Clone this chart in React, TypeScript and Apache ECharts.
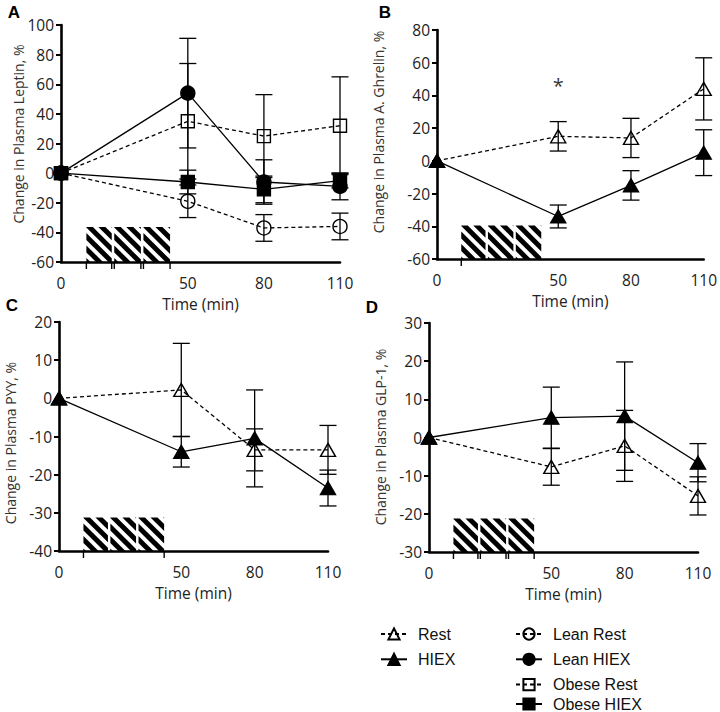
import React, { useEffect, useRef } from "react";
import * as echarts from "echarts";

// ---- data ----
const times = [0, 50, 80, 110];
const xTickLabels = [0, 50, 80, 110];

// Panel A: Leptin
const leanRestA = [0, -19, -37, -36];
const leanRestErrA = [0, 11, 9, 9];
const leanHiexA = [0, 54, -6, -9];
const leanHiexErrA = [0, 37, 15, 9];
const obeseRestA = [0, 35, 25, 32];
const obeseRestErrA = [0, 39, 28, 33];
const obeseHiexA = [0, -6, -11, -5];
const obeseHiexErrA = [0, 8, 9, 5];

// Panel B: A. Ghrelin
const restB = [0, 15, 14, 44];
const restErrB = [0, 9, 12, 19];
const hiexB = [0, -34, -15, 5];
const hiexErrB = [0, 7, 9, 14];
const starB = [50, 46];

// Panel C: PYY
const restC = [0, 2.2, -13.5, -13.5];
const restErrC = [0, 12.2, 5.5, 6.4];
const hiexC = [0, -14, -10.5, -23.5];
const hiexErrC = [0, 4, 12.7, 4.7];

// Panel D: GLP-1
const restD = [0, -7.7, -2.2, -15.3];
const restErrD = [0, 4.8, 9.3, 5];
const hiexD = [0, 5.2, 5.6, -6.6];
const hiexErrD = [0, 8, 14.2, 5];

// axes
const yMin = [-60, -60, -40, -30];
const yMax = [100, 80, 20, 30];
const yStep = [20, 20, 10, 10];
const yTitles = [
  "Change in Plasma Leptin, %",
  "Change in Plasma A. Ghrelin, %",
  "Change in Plasma PYY, %",
  "Change in Plasma GLP-1, %",
];
const panelLetters = ["A", "B", "C", "D"];

// legend groups
const legendLeft = ["Rest", "HIEX"];
const legendRightTop = ["Lean Rest", "Lean HIEX", "Obese Rest"];
const legendRightBottom = ["Obese HIEX"];

// exercise block (time in min) and its top value per panel
const exerciseSections = [
  [10, 20],
  [21, 31.5],
  [32.5, 43],
];
const hatchTop = [-36.3, -39.5, -31.2, -21.2];
const blockTicks = [
  [10, 20, 21, 31.5, 32.5, 43],
  [10],
  [10, 43],
  [10, 20, 21, 31.5, 32.5, 43],
];

const FONT = '"Open Sans", "Noto Sans", sans-serif';

function clipPoly(poly: number[][], f: (p: number[]) => number) {
  const out: number[][] = [];
  for (let i = 0; i < poly.length; i++) {
    const A = poly[i];
    const B = poly[(i + 1) % poly.length];
    const fa = f(A);
    const fb = f(B);
    if (fa >= 0) out.push(A);
    if (fa >= 0 !== fb >= 0) {
      const t = fa / (fa - fb);
      out.push([A[0] + t * (B[0] - A[0]), A[1] + t * (B[1] - A[1])]);
    }
  }
  return out;
}

function makeHatch(panel: number) {
  return (params: any, api: any) => {
    const children: any[] = [];
    const bottom = yMin[panel];
    const top = hatchTop[panel];
    const P = 12.5;
    const W = 7;
    for (const [x0v, x1v] of exerciseSections) {
      const p0 = api.coord([x0v, top]);
      const p1 = api.coord([x1v, bottom]);
      const rect = [
        [p0[0], p0[1]],
        [p1[0], p0[1]],
        [p1[0], p1[1]],
        [p0[0], p1[1]],
      ];
      const base = p0[0] - p0[1] + 3 - W / 2;
      for (let k = -8; k <= 8; k++) {
        const a = base + k * P;
        const b = a + W;
        let poly = clipPoly(rect, (pt) => pt[0] - pt[1] - a);
        if (poly.length < 3) continue;
        poly = clipPoly(poly, (pt) => b - (pt[0] - pt[1]));
        if (poly.length < 3) continue;
        children.push({ type: "polygon", shape: { points: poly }, style: { fill: "#000" } });
      }
    }
    const yb = api.coord([0, bottom])[1];
    for (const t of blockTicks[panel]) {
      const x = api.coord([t, bottom])[0];
      children.push({
        type: "line",
        shape: { x1: x, y1: yb, x2: x, y2: yb + 7 },
        style: { stroke: "#000", lineWidth: 1.4 },
      });
    }
    return { type: "group", children };
  };
}

const errRender = (params: any, api: any) => {
  const x = api.value(0);
  const lo = api.value(1);
  const hi = api.value(2);
  const pl = api.coord([x, lo]);
  const ph = api.coord([x, hi]);
  const hw = 8.5;
  const st = { stroke: "#000", lineWidth: 1.3 };
  return {
    type: "group",
    children: [
      { type: "line", shape: { x1: pl[0], y1: pl[1], x2: ph[0], y2: ph[1] }, style: st },
      { type: "line", shape: { x1: pl[0] - hw, y1: pl[1], x2: pl[0] + hw, y2: pl[1] }, style: st },
      { type: "line", shape: { x1: ph[0] - hw, y1: ph[1], x2: ph[0] + hw, y2: ph[1] }, style: st },
    ],
  };
};

type Kind = "Rest" | "HIEX" | "Lean Rest" | "Lean HIEX" | "Obese Rest" | "Obese HIEX";

const styleFor: Record<Kind, { symbol: string; size: any; filled: boolean; dashed: boolean }> = {
  Rest: { symbol: "triangle", size: [15, 13], filled: false, dashed: true },
  HIEX: { symbol: "triangle", size: [15, 13], filled: true, dashed: false },
  "Lean Rest": { symbol: "circle", size: 14, filled: false, dashed: true },
  "Lean HIEX": { symbol: "circle", size: 14, filled: true, dashed: false },
  "Obese Rest": { symbol: "rect", size: 13, filled: false, dashed: true },
  "Obese HIEX": { symbol: "rect", size: 13, filled: true, dashed: false },
};

function lineSeries(kind: Kind, panel: number, vals: number[]) {
  const s = styleFor[kind];
  return {
    type: "line",
    name: kind,
    xAxisIndex: panel,
    yAxisIndex: panel,
    data: times.map((t, i) => [t, vals[i]]),
    symbol: s.symbol,
    symbolSize: s.size,
    showAllSymbol: true,
    z: 3,
    lineStyle: { color: "#000", width: 1.3, type: s.dashed ? [4, 3] : "solid" },
    itemStyle: {
      color: s.filled ? "#000" : "rgba(255,255,255,0)",
      borderColor: "#000",
      borderWidth: 1.4,
    },
  };
}

function errSeries(panel: number, vals: number[], errs: number[]) {
  const data: number[][] = [];
  times.forEach((t, i) => {
    if (errs[i] > 0) data.push([t, vals[i] - errs[i], vals[i] + errs[i]]);
  });
  return {
    type: "custom",
    name: "err",
    xAxisIndex: panel,
    yAxisIndex: panel,
    renderItem: errRender,
    encode: { x: 0, y: [1, 2] },
    data,
    z: 2,
  };
}

const grids = [
  { left: 61, top: 25, width: 279, height: 237 },
  { left: 437, top: 30, width: 268, height: 229 },
  { left: 59, top: 322, width: 269, height: 229 },
  { left: 429, top: 323, width: 269, height: 229 },
];
const yTitlePos = [
  [18, 134],
  [378, 132],
  [10, 443],
  [380, 437],
];
const letterPos = [
  [14, 12],
  [385, 12],
  [12, 305],
  [372, 307],
];

export default function App() {
  const ref = useRef<HTMLDivElement>(null);
  useEffect(() => {
    if (!ref.current) return;
    const chart = echarts.init(ref.current, null, { renderer: "svg" });
    const xAxis = grids.map((_, i) => ({
      type: "value",
      gridIndex: i,
      min: 0,
      max: 110,
      name: "Time (min)",
      nameLocation: "middle",
      nameGap: 34,
      nameTextStyle: { fontFamily: FONT, fontSize: 15.5, color: "#222" },
      axisLine: { onZero: false, lineStyle: { color: "#000", width: 2.6 } },
      axisTick: { show: false },
      splitLine: { show: false },
      axisLabel: {
        customValues: xTickLabels,
        fontFamily: FONT,
        fontSize: 15.5,
        color: "#222",
        margin: 13,
      },
    }));
    const yAxis = grids.map((_, i) => ({
      type: "value",
      gridIndex: i,
      min: yMin[i],
      max: yMax[i],
      interval: yStep[i],
      axisLine: { show: true, onZero: false, lineStyle: { color: "#000", width: 2.6 } },
      axisTick: { show: true, length: 5, lineStyle: { color: "#000", width: 2 } },
      splitLine: { show: false },
      axisLabel: { fontFamily: FONT, fontSize: 15.5, color: "#222", margin: 7 },
    }));

    const series: any[] = [];
    for (let p = 0; p < 4; p++) {
      series.push({
        type: "custom",
        name: "exercise",
        xAxisIndex: p,
        yAxisIndex: p,
        renderItem: makeHatch(p),
        data: [[0, yMin[p]]],
        z: 1,
        silent: true,
      });
    }
    // Panel A
    series.push(errSeries(0, leanRestA, leanRestErrA));
    series.push(errSeries(0, leanHiexA, leanHiexErrA));
    series.push(errSeries(0, obeseRestA, obeseRestErrA));
    series.push(errSeries(0, obeseHiexA, obeseHiexErrA));
    series.push(lineSeries("Lean Rest", 0, leanRestA));
    series.push(lineSeries("Obese Rest", 0, obeseRestA));
    series.push(lineSeries("Lean HIEX", 0, leanHiexA));
    series.push(lineSeries("Obese HIEX", 0, obeseHiexA));
    // Panel B
    series.push(errSeries(1, restB, restErrB));
    series.push(errSeries(1, hiexB, hiexErrB));
    series.push(lineSeries("Rest", 1, restB));
    series.push(lineSeries("HIEX", 1, hiexB));
    series.push({
      type: "scatter",
      name: "sig",
      xAxisIndex: 1,
      yAxisIndex: 1,
      data: [starB],
      symbolSize: 1,
      itemStyle: { color: "rgba(0,0,0,0)" },
      label: {
        show: true,
        position: "inside",
        formatter: "*",
        fontFamily: FONT,
        fontSize: 20,
        color: "#000",
      },
    });
    // Panel C
    series.push(errSeries(2, restC, restErrC));
    series.push(errSeries(2, hiexC, hiexErrC));
    series.push(lineSeries("Rest", 2, restC));
    series.push(lineSeries("HIEX", 2, hiexC));
    // Panel D
    series.push(errSeries(3, restD, restErrD));
    series.push(errSeries(3, hiexD, hiexErrD));
    series.push(lineSeries("Rest", 3, restD));
    series.push(lineSeries("HIEX", 3, hiexD));

    const legendCommon = {
      orient: "vertical",
      itemWidth: 26,
      itemHeight: 14,
      itemGap: 9.3,
      padding: 0,
      selectedMode: false,
      textStyle: {
        fontFamily: '"Liberation Sans", Arial, sans-serif',
        fontSize: 16,
        color: "#111",
        lineHeight: 14,
        padding: [0, 0, 0, 6],
      },
    };

    const graphic: any[] = [];
    for (let i = 0; i < 4; i++) {
      graphic.push({
        type: "text",
        x: yTitlePos[i][0],
        y: yTitlePos[i][1],
        rotation: Math.PI / 2,
        style: {
          text: yTitles[i],
          fontFamily: FONT,
          fontSize: 14,
          fill: "#333",
          textAlign: "center",
          textVerticalAlign: "middle",
        },
      });
      graphic.push({
        type: "text",
        x: letterPos[i][0],
        y: letterPos[i][1],
        style: {
          text: panelLetters[i],
          fontFamily: '"Liberation Sans", Arial, sans-serif',
          fontWeight: "bold",
          fontSize: 17,
          fill: "#000",
          textAlign: "center",
          textVerticalAlign: "middle",
        },
      });
    }

    chart.setOption({
      animation: false,
      backgroundColor: "#fff",
      grid: grids,
      xAxis,
      yAxis,
      series,
      graphic,
      legend: [
        { ...legendCommon, left: 380, top: 626, data: legendLeft },
        { ...legendCommon, left: 515, top: 626, data: legendRightTop },
        { ...legendCommon, left: 515, top: 696, data: legendRightBottom },
      ],
    });
    return () => chart.dispose();
  }, []);
  return (
    <div
      ref={ref}
      style={{ position: "absolute", left: 0, top: 0, width: 720, height: 712, background: "#fff" }}
    />
  );
}
